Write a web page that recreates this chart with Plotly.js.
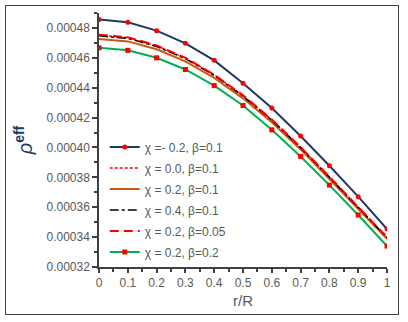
<!DOCTYPE html>
<html>
<head>
<meta charset="utf-8">
<script src="https://cdn.plot.ly/plotly-3.0.1.min.js"></script>
<style>
  body { margin: 0; background: #fff; }
  #frame { position: absolute; left: 5px; top: 5px; width: 392px; height: 308px;
           border: 1.5px solid #404040; pointer-events: none; }
</style>
</head>
<body>
<div id="chart" style="width:408px;height:322px;"></div>
<div id="frame"></div>
<script>
var rR = [0, 0.1, 0.2, 0.3, 0.4, 0.5, 0.6, 0.7, 0.8, 0.9, 1];

// rho_eff for each (chi, beta) pair
var chiM02b01 = [0.0004856, 0.0004838, 0.0004782, 0.0004697, 0.0004583, 0.000443, 0.0004264, 0.0004077, 0.0003878, 0.0003671, 0.0003454];
var chi00b01  = [0.0004752, 0.0004735, 0.000468, 0.0004598, 0.0004486, 0.0004347, 0.0004185, 0.0004001, 0.0003802, 0.0003602, 0.0003398];
var chi02b01  = [0.0004726, 0.000471, 0.0004657, 0.0004576, 0.0004466, 0.0004329, 0.0004169, 0.0003987, 0.0003789, 0.0003591, 0.0003388];
var chi04b01  = [0.0004747, 0.000473, 0.0004676, 0.0004594, 0.0004482, 0.0004343, 0.0004182, 0.0003998, 0.00038, 0.0003599, 0.0003396];
var chi02b005 = [0.0004755, 0.0004738, 0.0004683, 0.00046, 0.0004488, 0.0004349, 0.0004187, 0.0004003, 0.0003804, 0.0003604, 0.00034];
var chi02b02  = [0.0004667, 0.000465, 0.00046, 0.0004522, 0.0004414, 0.0004281, 0.0004118, 0.000394, 0.0003748, 0.0003548, 0.000334];

var names = ['χ =- 0.2, β=0.1', 'χ = 0.0, β=0.1', 'χ = 0.2, β=0.1',
             'χ = 0.4, β=0.1', 'χ = 0.2, β=0.05', 'χ = 0.2, β=0.2'];

var data = [
  { x: rR, y: chiM02b01, name: names[0], mode: 'lines+markers', legendgroup: 'a',
    line: { color: '#1f3864', width: 2 },
    marker: { color: '#ff0000', size: 5, symbol: 'circle' } },
  { x: rR, y: chi00b01, name: names[1], mode: 'lines', legendgroup: 'b',
    line: { color: '#ff0000', width: 1.5, dash: '3px,2px' } },
  { x: rR, y: chi02b01, name: names[2], mode: 'lines', legendgroup: 'c',
    line: { color: '#c55a11', width: 2 } },
  { x: rR, y: chi04b01, name: names[3], mode: 'lines', legendgroup: 'd',
    line: { color: '#000000', width: 1.5, dash: 'dashdot' } },
  { x: rR, y: chi02b005, name: names[4], mode: 'lines', legendgroup: 'e',
    line: { color: '#ff0000', width: 2, dash: '9px,5px' } },
  { x: rR, y: chi02b02, name: names[5], mode: 'lines+markers', legendgroup: 'f',
    line: { color: '#00b050', width: 2 },
    marker: { color: '#ff0000', size: 5, symbol: 'square' } }
];

var layout = {
  width: 408,
  height: 322,
  margin: { l: 99, r: 21, t: 13, b: 55 },
  plot_bgcolor: '#fff',
  paper_bgcolor: '#fff',
  font: { family: 'Liberation Sans, Arial, sans-serif', size: 12, color: '#595959' },
  showlegend: true,
  legend: {
    x: 0.02, y: 0.53, xanchor: 'left', yanchor: 'top',
    bgcolor: 'rgba(0,0,0,0)',
    font: { size: 12, color: '#595959' },
    tracegroupgap: 2
  },
  xaxis: {
    range: [0, 1],
    tickvals: [0, 0.1, 0.2, 0.3, 0.4, 0.5, 0.6, 0.7, 0.8, 0.9, 1],
    ticktext: ['0', '0.1', '0.2', '0.3', '0.4', '0.5', '0.6', '0.7', '0.8', '0.9', '1'],
    ticks: 'outside', ticklen: 4, tickcolor: '#404040', tickwidth: 1.5,
    minor: { dtick: 0.05, ticks: 'outside', ticklen: 3, tickcolor: '#404040' },
    showline: true, linecolor: '#404040', linewidth: 1.5,
    showgrid: false, zeroline: false,
    title: { text: 'r/R', font: { size: 15, color: '#595959' }, standoff: 6 }
  },
  yaxis: {
    range: [0.00032, 0.00049],
    tickvals: [0.00032, 0.00034, 0.00036, 0.00038, 0.0004, 0.00042, 0.00044, 0.00046, 0.00048],
    ticktext: ['0.00032', '0.00034', '0.00036', '0.00038', '0.00040', '0.00042', '0.00044', '0.00046', '0.00048'],
    ticks: 'outside', ticklen: 5, tickcolor: '#404040', tickwidth: 1.5,
    minor: { dtick: 0.00001, tick0: 0.00032, ticks: 'outside', ticklen: 3, tickcolor: '#404040' },
    showline: true, linecolor: '#404040', linewidth: 1.5,
    showgrid: false, zeroline: false,
    title: { text: '<i>ρ</i><sup><b>eff</b></sup>', font: { size: 20, color: '#1f3864' }, standoff: 8 }
  }
};

Plotly.newPlot('chart', data, layout, { displayModeBar: false });
</script>
</body>
</html>
